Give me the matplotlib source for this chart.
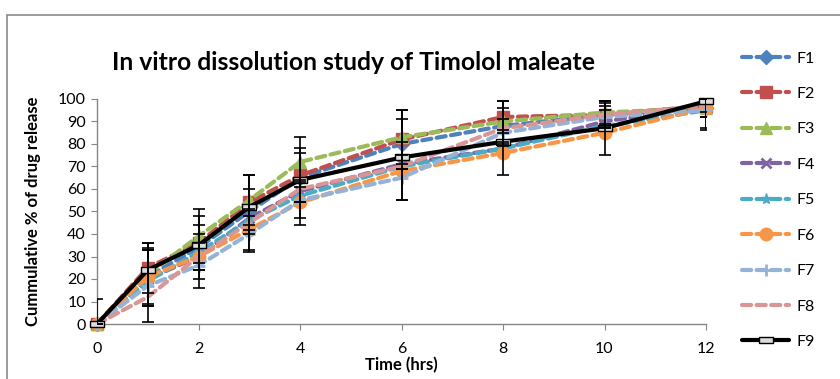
import matplotlib
matplotlib.use("Agg")
import matplotlib.pyplot as plt
from matplotlib.patches import Rectangle

time_hrs = [0, 1, 2, 3, 4, 6, 8, 10, 12]
series_names = ["F1", "F2", "F3", "F4", "F5", "F6", "F7", "F8", "F9"]

F1 = [0, 21, 34, 50, 65, 80, 88, 93, 96]
F2 = [0, 25, 36, 54, 66, 82, 92, 93, 97]
F3 = [0, 22, 39, 55, 72, 83, 90, 94, 96]
F4 = [0, 20, 30, 47, 59, 71, 78, 90, 97]
F5 = [0, 19, 32, 46, 57, 70, 78, 88, 95]
F6 = [0, 21, 30, 42, 54, 68, 76, 85, 96]
F7 = [0, 17, 26, 40, 55, 65, 85, 92, 95]
F8 = [0, 12, 30, 45, 60, 70, 87, 93, 97]
F9 = [0, 24, 35, 52, 64, 74, 81, 87, 99]

# standard deviations (error bars)
F1_err = [11, 12, 10, 10, 11, 11, 8, 5, 4]
F2_err = [0, 11, 12, 12, 12, 13, 7, 6, 3]
F3_err = [0, 14, 12, 11, 11, 12, 9, 5, 4]
F6_err = [0, 13, 10, 9, 10, 13, 10, 10, 10]
F7_err = [0, 16, 10, 8, 8, 10, 6, 5, 8]

values = [F1, F2, F3, F4, F5, F6, F7, F8, F9]
errors = {"F1": F1_err, "F2": F2_err, "F3": F3_err, "F6": F6_err, "F7": F7_err}

colors = ["#4F81BD", "#C0504D", "#9BBB59", "#8064A2", "#4BACC6",
          "#F79646", "#95B3D7", "#D99694", "#000000"]
rect_marker = [(-1, -0.4), (1, -0.4), (1, 0.4), (-1, 0.4), (-1, -0.4)]
markers = ["D", "s", "^", "x", "*", "o", "+", None, rect_marker]
msizes = [7, 8, 8, 7, 8, 9, 8, 0, 10]

W, H = 840, 379
fig = plt.figure(figsize=(W / 100, H / 100), dpi=100)
plt.rcParams["font.family"] = ["Lato", "DejaVu Sans"]

# outer chart border
fig.patches.append(Rectangle((7 / W, -0.1), 1.0, 1 - 15 / H + 0.1,
                             transform=fig.transFigure, fill=False,
                             edgecolor="#8a8a8a", linewidth=1.2))

ax = fig.add_axes([97 / W, 1 - 324 / H, (706 - 97) / W, (324 - 99) / H])

handles = []
for name, vals, col, mk, ms in zip(series_names, values, colors, markers, msizes):
    if name == "F9":
        ln, = ax.plot(time_hrs, vals, color="black", linewidth=3.0,
                      marker=mk, markersize=ms, markerfacecolor="#dcdcdc",
                      markeredgecolor="black", markeredgewidth=1.0,
                      clip_on=False, zorder=5, solid_capstyle="round")
    else:
        ln, = ax.plot(time_hrs, vals, color=col, linewidth=3.0,
                      linestyle=(0, (2.2, 1.3)), dash_capstyle="round",
                      marker=mk if mk else None, markersize=ms,
                      markerfacecolor=col, markeredgecolor=col,
                      markeredgewidth=2.0 if mk in ("x", "+") else 1.0,
                      clip_on=False, zorder=3)
    handles.append(ln)
    if name in errors:
        ax.errorbar(time_hrs, vals, yerr=errors[name], fmt="none",
                    ecolor="black", elinewidth=1.2, capsize=4, capthick=1.2,
                    zorder=6, clip_on=True)

ax.set_xlim(0, 12)
ax.set_ylim(0, 100)
ax.set_xticks(range(0, 13, 2))
ax.set_yticks(range(0, 101, 10))
for s in ["top", "right"]:
    ax.spines[s].set_visible(False)
for s in ["left", "bottom"]:
    ax.spines[s].set_color("#868686")
    ax.spines[s].set_linewidth(1.0)
ax.tick_params(axis="both", colors="#868686", labelcolor="black",
               labelsize=11.5, length=4, direction="out")
ax.tick_params(axis="x", pad=9)
ax.tick_params(axis="y", pad=4)

ax.set_xlabel("Time (hrs)", fontsize=12, fontweight="bold", labelpad=1)
ax.set_ylabel("Cummulative % of drug release", fontsize=12,
              fontweight="bold", labelpad=12)

fig.text(353 / W, 1 - 62 / H, "In vitro dissolution study of Timolol maleate",
         fontsize=17.8, fontweight="bold", ha="center", va="center")

leg = fig.legend(handles, series_names, loc="upper left",
                 bbox_to_anchor=(728 / W, 1 - 37 / H), frameon=False,
                 fontsize=11.5, handlelength=2.9, labelspacing=1.33,
                 handletextpad=0.5)

fig.savefig("out.png", dpi=100)
